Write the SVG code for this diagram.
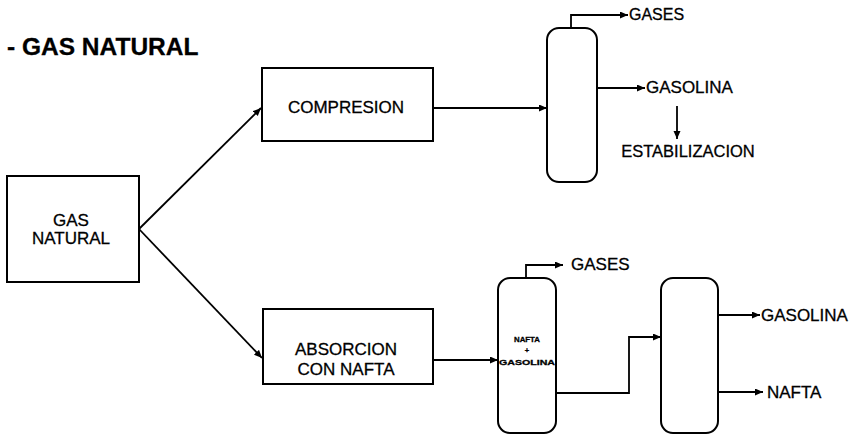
<svg xmlns="http://www.w3.org/2000/svg" width="854" height="436" viewBox="0 0 854 436">
  <defs>
    <marker id="ah" markerUnits="userSpaceOnUse" markerWidth="9" markerHeight="8" refX="8" refY="3.5" orient="auto">
      <path d="M0,0 L8,3.5 L0,7 z" fill="#000"/>
    </marker>
    <style>
      .box { fill: #fff; stroke: #000; stroke-width: 2; }
      .ln { fill: none; stroke: #000; stroke-width: 1.8; }
      .arr { marker-end: url(#ah); }
      text { font-family: "Liberation Sans", Arial, sans-serif; fill: #000; stroke: #000; stroke-width: 0.3; }
      .t { font-size: 17px; }
      .c { text-anchor: middle; }
    </style>
  </defs>
  <rect width="854" height="436" fill="#fff"/>

  <text x="7" y="55" font-size="24.5" font-weight="bold" stroke-width="0">- GAS NATURAL</text>

  <g id="gas-natural">
    <rect class="box" x="7" y="176" width="132" height="106"/>
    <text class="c" x="71" y="226" font-size="17">GAS</text>
    <text class="c" x="71" y="244" font-size="17">NATURAL</text>
  </g>

  <g id="compresion">
    <rect class="box" x="262" y="68" width="171" height="73"/>
    <text class="c t" x="346" y="113">COMPRESION</text>
  </g>

  <g id="absorcion">
    <rect class="box" x="263" y="309" width="170" height="75"/>
    <text class="c t" x="346" y="355">ABSORCION</text>
    <text class="c t" x="346" y="375">CON NAFTA</text>
  </g>

  <g id="column1">
    <rect class="box" x="547" y="28" width="50" height="154" rx="12"/>
  </g>

  <g id="column2">
    <rect class="box" x="498" y="278" width="58" height="155" rx="12"/>
    <text class="c" x="527" y="342" font-size="7.5" font-weight="bold" stroke-width="0" textLength="26" lengthAdjust="spacingAndGlyphs">NAFTA</text>
    <text class="c" x="527" y="353" font-size="7.5" font-weight="bold" stroke-width="0">+</text>
    <text class="c" x="527" y="365" font-size="7.5" font-weight="bold" stroke-width="0" textLength="56" lengthAdjust="spacingAndGlyphs">GASOLINA</text>
  </g>

  <g id="column3">
    <rect class="box" x="661" y="278" width="57" height="155" rx="12"/>
  </g>

  <g id="labels">
    <text x="629" y="20" font-size="16">GASES</text>
    <text x="646" y="93" class="t">GASOLINA</text>
    <text class="c" x="688" y="157" font-size="16.5">ESTABILIZACION</text>
    <text x="571" y="270" class="t">GASES</text>
    <text x="761" y="321" class="t">GASOLINA</text>
    <text x="767" y="398" class="t">NAFTA</text>
  </g>

  <g id="connectors">
    <path class="ln arr" d="M139,229 L261,108"/>
    <path class="ln arr" d="M139,229 L262,358"/>
    <path class="ln arr" d="M433,108 H547"/>
    <path class="ln arr" d="M571,28 V15 H628"/>
    <path class="ln arr" d="M597,88 H645"/>
    <path class="ln arr" d="M677,106 V139"/>
    <path class="ln arr" d="M433,360 H498"/>
    <path class="ln arr" d="M526,278 V265 H563"/>
    <path class="ln arr" d="M556,393 H629 V337 H661"/>
    <path class="ln arr" d="M718,315 H760"/>
    <path class="ln arr" d="M718,392 H763"/>
  </g>
</svg>
